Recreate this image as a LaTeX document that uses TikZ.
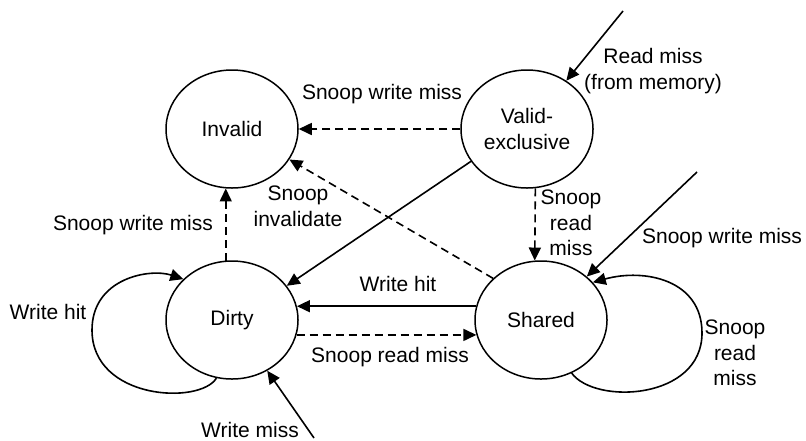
\documentclass[tikz,border=0pt]{standalone}
\usepackage{fontspec}
\setmainfont{Liberation Sans}
\usetikzlibrary{shapes.geometric,arrows.meta}

\begin{document}
\begin{tikzpicture}[
    x=0.5pt, y=-0.5pt,
    state/.style={ellipse, draw, line width=0.75pt, minimum width=66pt, minimum height=59pt, inner sep=0pt, align=center, font=\fontsize{10.5}{13}\selectfont},
    note/.style={align=center, inner sep=0pt, font=\fontsize{10.5}{12.8}\selectfont},
    trans/.style={-{Triangle[length=6.5pt,width=6pt]}, line width=0.8pt},
    snoop/.style={-{Triangle[length=6.5pt,width=6pt]}, line width=0.8pt, dash pattern=on 4pt off 2.5pt}
]
    \useasboundingbox (0,0) rectangle (806,440);

    % States
    \node[state] (invalid) at (232,129) {Invalid};
    \node[state] (valid) at (527,129) {Valid-\\exclusive};
    \node[state] (dirty) at (232,320) {Dirty};
    \node[state] (shared) at (541,320) {Shared};

    % Outside requests
    \coordinate (rmiss) at (623,11);
    \coordinate (swmiss) at (697,172);
    \coordinate (wmiss) at (314,438);

    % Labels
    \node[note] (lrm) at (653,71) {Read miss\\(from memory)};
    \node[note] (lvi) at (382,94) {Snoop write miss};
    \node[note] (lsi) at (298,206) {Snoop\\invalidate};
    \node[note] (ldi) at (133,225) {Snoop write miss};
    \node[note] (lvs) at (571,223) {Snoop\\read\\miss};
    \node[note] (lsw) at (722,238) {Snoop write miss};
    \node[note] (lwh) at (398,284) {Write hit};
    \node[note] (lsr) at (390,357) {Snoop read miss};
    \node[note] (ldl) at (48,312) {Write hit};
    \node[note] (lwm) at (250,430) {Write miss};
    \node[note] (lsl) at (735,353) {Snoop\\read\\miss};

    % Connections
    \draw[trans] (rmiss) -- (valid);
    \draw[snoop] (valid.west) -- (invalid.east);
    \draw[trans] (valid.210) -- (dirty.32);
    \draw[snoop] (shared.139) -- (invalid.-28);
    \draw[snoop] (dirty.96) -- (invalid.264);
    \draw[snoop] (valid.-82) -- (shared.96);
    \draw[trans] (swmiss) -- (shared);
    \draw[trans] (shared.168) -- (dirty.12);
    \draw[snoop] (dirty.-13) -- (shared.193);
    \draw[trans] (wmiss) -- (dirty);

    % Loops
    \draw[trans] (dirty.255) .. controls (200,405) and (92,400) .. (92,330)
        .. controls (92,278) and (150,268) .. (dirty.140);
    \draw[trans] (shared.-60) .. controls (595,405) and (702,400) .. (702,333)
        .. controls (702,280) and (645,268) .. (shared.36);
\end{tikzpicture}
\end{document}
